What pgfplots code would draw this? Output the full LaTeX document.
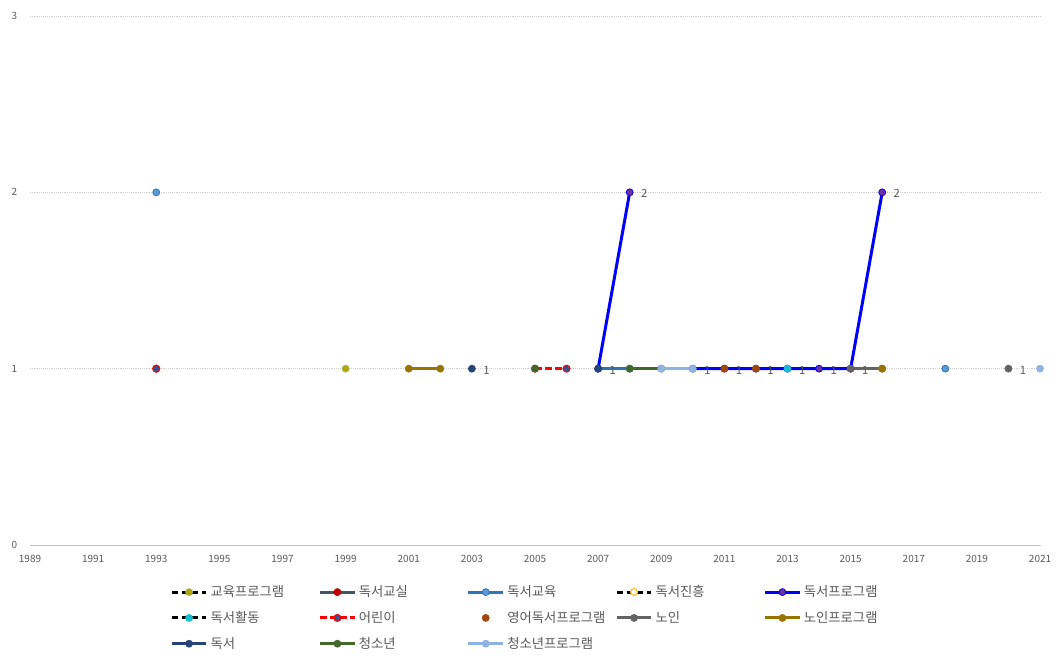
\documentclass[border=0pt]{standalone}
\usepackage{pgfplots}
\pgfplotsset{compat=1.18}
\usepackage{fontspec}
\setmainfont{Noto Sans CJK KR}
\definecolor{tickgray}{HTML}{595959}
\definecolor{cEduM}{HTML}{B5A200}
\definecolor{cEduE}{HTML}{9BBB59}
\definecolor{cClassL}{HTML}{44546A}
\definecolor{cClassM}{HTML}{C00000}
\definecolor{cRedEduL}{HTML}{2E75B6}
\definecolor{cRedEduM}{HTML}{5B9BD5}
\definecolor{cPromM}{HTML}{FFC000}
\definecolor{cProgL}{HTML}{0000FF}
\definecolor{cProgM}{HTML}{7030A0}
\definecolor{cActM}{HTML}{17BECF}
\definecolor{cKidL}{HTML}{FF0000}
\definecolor{cKidM}{HTML}{2F5597}
\definecolor{cEngM}{HTML}{9E480E}
\definecolor{cOldL}{HTML}{636363}
\definecolor{cOldPL}{HTML}{997300}
\definecolor{cReadL}{HTML}{264478}
\definecolor{cYouthL}{HTML}{43682B}
\definecolor{cYouthPL}{HTML}{8FB4E3}
\begin{document}
\begin{tikzpicture}
\path[use as bounding box] (0,0) rectangle (794.25pt,492pt);
\begin{axis}[
  at={(22.5pt,83.25pt)}, anchor=south west,
  scale only axis, width=757.5pt, height=396.75pt,
  xmin=1989, xmax=2021, ymin=0, ymax=3,
  xtick={1989,1991,...,2021}, ytick={0,1,2,3},
  clip=false,
  unbounded coords=jump,
  /pgf/number format/assume math mode=true,
  /pgf/number format/set thousands separator={},
  xticklabel style={font=\fontsize{7.5}{9}\selectfont, text=tickgray, yshift=-4pt},
  yticklabel style={font=\fontsize{7.5}{9}\selectfont, text=tickgray, xshift=-6pt},
  major tick length=0pt,
  axis x line*=bottom, axis y line*=left,
  x axis line style={draw=black!25,-},
  y axis line style={draw=none},
  ymajorgrids, major grid style={draw=black!18, densely dotted},
  every axis plot/.append style={line width=2.25pt, mark=*, mark size=2.6pt},
  legend columns=5,
  legend cell align=left,
  legend style={at={(0.1386,-0.071)}, anchor=north west, draw=none, fill=none, inner sep=0pt,
    font=\fontsize{10}{12}\selectfont, text=tickgray,
    row sep=5.5pt,
    /tikz/every even column/.append style={column sep=0pt}},
  legend image code/.code={\draw[#1,mark repeat=2,mark phase=2] plot coordinates {(0pt,0pt) (13pt,0pt) (26pt,0pt)};},
]
% 교육프로그램
\addplot[black, dash pattern=on 5pt off 2.5pt, mark options={solid, fill=cEduM, draw=cEduE, line width=0.6pt}] coordinates {(1999,1)};
\addlegendentry{\makebox[79pt][l]{교육프로그램}}
% 독서교실
\addplot[cClassL, mark options={fill=cClassM, draw=cClassM, line width=0.6pt}] coordinates {(1993,1)};
\addlegendentry{\makebox[79pt][l]{독서교실}}
% 독서교육
\addplot[cRedEduL, mark options={fill=cRedEduM, draw=cRedEduL, line width=0.6pt}] coordinates {(1993,2) (1994,nan) (2007,1) (2008,1) (2009,nan) (2018,1)};
\addlegendentry{\makebox[79pt][l]{독서교육}}
% 독서진흥
\addlegendimage{black, line width=2.25pt, dash pattern=on 5pt off 2.5pt, mark=*, mark size=2.6pt, mark options={solid, fill=white, draw=cPromM, line width=0.8pt}}
\addlegendentry{\makebox[79pt][l]{독서진흥}}
% 독서프로그램
\addplot[cProgL, mark options={fill=cProgM, draw=cProgL, line width=0.6pt}] coordinates {(2007,1) (2008,2) (2009,nan) (2010,1) (2011,1) (2012,1) (2013,1) (2014,1) (2015,1) (2016,2)};
\addlegendentry{\makebox[79pt][l]{독서프로그램}}
% 독서활동
\addplot[black, dash pattern=on 5pt off 2.5pt, mark options={solid, fill=cActM, draw=cActM, line width=0.6pt}] coordinates {(2013,1)};
\addlegendentry{\makebox[79pt][l]{독서활동}}
% 어린이
\addplot[cKidL, dash pattern=on 5pt off 2.5pt, mark options={solid, fill=cKidM, draw=cKidL, line width=0.8pt}] coordinates {(1993,1) (1994,nan) (2005,1) (2006,1)};
\addlegendentry{\makebox[79pt][l]{어린이}}
% 영어독서프로그램
\addplot[only marks, mark options={fill=cEngM, draw=cEngM, line width=0.6pt}] coordinates {(2011,1) (2012,1) (2015,1)};
\addlegendentry{\makebox[79pt][l]{영어독서프로그램}}
% 노인
\addplot[cOldL, mark options={fill=cOldL, draw=cOldL, line width=0.6pt}] coordinates {(2015,1) (2016,1) (2017,nan) (2020,1)};
\addlegendentry{\makebox[79pt][l]{노인}}
% 노인프로그램
\addplot[cOldPL, mark options={fill=cOldPL, draw=cOldPL, line width=0.6pt}] coordinates {(2001,1) (2002,1) (2003,nan) (2016,1)};
\addlegendentry{\makebox[79pt][l]{노인프로그램}}
% 독서
\addplot[cReadL, mark options={fill=cReadL, draw=cReadL, line width=0.6pt}] coordinates {(2003,1) (2004,nan) (2007,1)};
\addlegendentry{\makebox[79pt][l]{독서}}
% 청소년
\addplot[cYouthL, mark options={fill=cYouthL, draw=cYouthL, line width=0.6pt}] coordinates {(2005,1) (2006,nan) (2008,1) (2009,1)};
\addlegendentry{\makebox[79pt][l]{청소년}}
% 청소년프로그램
\addplot[cYouthPL, mark options={fill=cYouthPL, draw=cYouthPL, line width=0.6pt}] coordinates {(2009,1) (2010,1) (2011,nan) (2021,1)};
\addlegendentry{\makebox[79pt][l]{청소년프로그램}}
% data labels
\addplot[draw=none, mark=none, forget plot, nodes near coords, point meta=explicit symbolic,
  nodes near coords style={anchor=center, xshift=11pt, yshift=-1pt, inner sep=0pt, font=\fontsize{8.5}{9}\selectfont, text=tickgray}]
  coordinates {(2003,1)[1] (2007,1)[1] (2008,2)[2] (2010,1)[1] (2011,1)[1] (2012,1)[1] (2013,1)[1] (2014,1)[1] (2015,1)[1] (2016,2)[2] (2020,1)[1]};
\end{axis}
\end{tikzpicture}
\end{document}
